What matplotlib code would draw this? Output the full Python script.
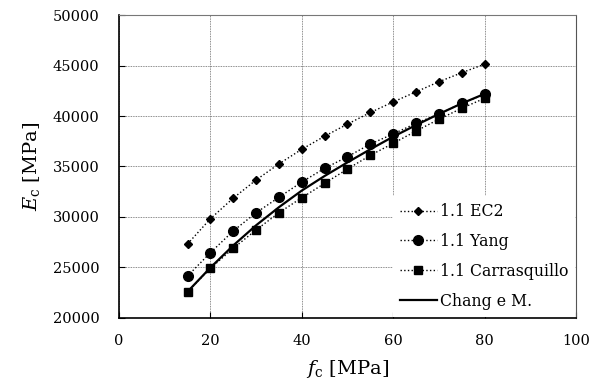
import matplotlib
matplotlib.use("Agg")
import matplotlib.pyplot as plt

plt.rcParams['font.family'] = ['DejaVu Serif']
plt.rcParams['mathtext.fontset'] = 'dejavuserif'

# concrete strength [MPa]
fc = [15, 20, 25, 30, 35, 40, 45, 50, 55, 60, 65, 70, 75, 80]

# elastic modulus [MPa]
ec2 = [27300, 29800, 31850, 33650, 35250, 36700, 38000, 39200, 40350, 41400, 42400, 43400, 44300, 45150]
yang = [24120, 26430, 28590, 30400, 31930, 33450, 34810, 35960, 37220, 38220, 39280, 40200, 41260, 42160]
carrasquillo = [22560, 24880, 26870, 28690, 30400, 31890, 33320, 34740, 36100, 37290, 38510, 39680, 40770, 41760]
chang = [22560, 24950, 27150, 29150, 30950, 32600, 34050, 35400, 36700, 37950, 39100, 40200, 41250, 42200]

fig = plt.figure(figsize=(5.94, 3.89), dpi=100)
ax = fig.add_axes([0.2003, 0.1838, 0.7694, 0.7769])

ax.plot(fc, ec2, color='black', linestyle=':', linewidth=1, marker='D', markersize=4, label='1.1 EC2')
ax.plot(fc, yang, color='black', linestyle=':', linewidth=1, marker='o', markersize=7, label='1.1 Yang')
ax.plot(fc, carrasquillo, color='black', linestyle=':', linewidth=1, marker='s', markersize=6, label='1.1 Carrasquillo')
ax.plot(fc, chang, color='black', linestyle='-', linewidth=1.6, label='Chang e M.')

ax.set_xlim(0, 100)
ax.set_ylim(20000, 50000)
ax.set_xticks([0, 20, 40, 60, 80, 100])
ax.set_yticks([20000, 25000, 30000, 35000, 40000, 45000, 50000])
ax.grid(True, color='#666666', linestyle=(0, (1, 1)), linewidth=0.6)
ax.set_axisbelow(True)

ax.tick_params(direction='in', length=4, width=0.8, labelsize=10.5, pad=12)
ax.tick_params(axis='y', pad=14)

ax.spines['left'].set_linewidth(1.2)
ax.spines['bottom'].set_linewidth(1.2)
ax.spines['top'].set_color('#777777')
ax.spines['top'].set_linestyle((0, (1, 1)))
ax.spines['top'].set_linewidth(0.8)
ax.spines['right'].set_color('#555555')
ax.spines['right'].set_linewidth(0.8)

ax.set_xlabel(r'$f_{\mathrm{c}}$ [MPa]', fontsize=14, labelpad=7)
ax.set_ylabel(r'$E_{\mathrm{c}}$ [MPa]', fontsize=14, labelpad=8)

leg = ax.legend(loc='lower right', fontsize=11.3, frameon=True, fancybox=False,
                edgecolor='none', facecolor='white', framealpha=1,
                handlelength=2.3, handletextpad=0.2, labelspacing=0.82,
                borderaxespad=0.05, borderpad=0.45)

fig.savefig('out.png', dpi=100)
